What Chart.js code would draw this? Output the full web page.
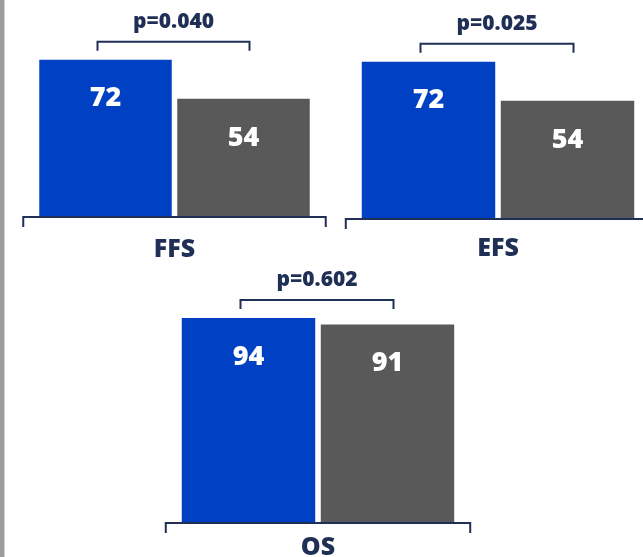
<!DOCTYPE html>
<html>
<head>
<meta charset="utf-8">
<script src="https://cdn.jsdelivr.net/npm/chart.js@4/dist/chart.umd.min.js"></script>
<style>
  html, body { margin: 0; padding: 0; background: #ffffff; }
  #wrap { position: relative; width: 643px; height: 557px; overflow: hidden; background: #ffffff; }
  #edge { position: absolute; left: 0; top: 0; width: 4px; height: 557px; background: #9d9d9d; border-right: 1px solid #d4d4d4; }
  canvas.panel { position: absolute; left: 0; top: -30px; }
</style>
</head>
<body>
<div id="wrap">
  <div id="edge"></div>
  <canvas class="panel" id="c0" width="643" height="600"></canvas>
  <canvas class="panel" id="c1" width="643" height="600"></canvas>
  <canvas class="panel" id="c2" width="643" height="600"></canvas>
</div>
<script>
// Outcome rates (%) per endpoint for the two arms
const categories = ['FFS', 'EFS', 'OS'];
const armA = [72, 72, 94];
const armB = [54, 54, 91];
const pValues = ['p=0.040', 'p=0.025', 'p=0.602'];

const BLUE = '#0041c4';
const GREY = '#595959';
const NAVY = '#1f2f55';
const FONT = '"Open Sans", "DejaVu Sans", sans-serif';
const WEIGHT = '800';

// Placement of each panel's plot area on the page (px)
const panelLayout = [
  { left: 36.5, right: 312.5, bottom: 216, labelDy: 34 },
  { left: 359,  right: 637,   bottom: 218, labelDy: 31 },
  { left: 179,  right: 457,   bottom: 522, labelDy: 26 }
];
const PLOT_H = 217;      // height of 0..100 on the value axis
const CANVAS_TOP = -30;  // canvases are shifted up so the plot can start at the page edge
const CANVAS_W = 643, CANVAS_H = 600;

const annotate = {
  id: 'annotate',
  afterDatasetsDraw(chart, args, opts) {
    const ctx = chart.ctx;
    const meta = chart.getDatasetMeta(0);
    const bars = meta.data;
    const vals = chart.data.datasets[0].data;
    const base = chart.scales.y.getPixelForValue(0);

    ctx.save();
    // value labels inside the bars
    ctx.fillStyle = '#ffffff';
    ctx.font = WEIGHT + ' 27px ' + FONT;
    ctx.textAlign = 'center';
    ctx.textBaseline = 'middle';
    bars.forEach((b, i) => {
      ctx.fillText(String(vals[i]), b.x, b.y + 39);
    });

    // bracket-style category axis under the pair of bars
    const l0 = bars[0].x - bars[0].width / 2;
    const r1 = bars[1].x + bars[1].width / 2;
    const axL = l0 - 16, axR = r1 + 16, axY = base + 1;
    ctx.strokeStyle = NAVY;
    ctx.lineWidth = 2;
    ctx.lineCap = 'butt';
    ctx.beginPath();
    ctx.moveTo(axL, axY + 10);
    ctx.lineTo(axL, axY);
    ctx.lineTo(axR, axY);
    ctx.lineTo(axR, axY + 10);
    ctx.stroke();

    // category name
    ctx.fillStyle = NAVY;
    ctx.font = WEIGHT + ' 25px ' + FONT;
    ctx.fillText(opts.label, (axL + axR) / 2, base + opts.labelDy);

    // significance bracket above the bars
    const topY = Math.min(bars[0].y, bars[1].y);
    const bY = topY - 18;
    const bL = bars[0].x - 8, bR = bars[1].x + 6;
    ctx.beginPath();
    ctx.moveTo(bL, bY + 9);
    ctx.lineTo(bL, bY);
    ctx.lineTo(bR, bY);
    ctx.lineTo(bR, bY + 9);
    ctx.stroke();

    ctx.font = WEIGHT + ' 21px ' + FONT;
    ctx.fillText(opts.pText, (bL + bR) / 2, bY - 20);
    ctx.restore();
  }
};

categories.forEach((cat, i) => {
  const g = panelLayout[i];
  const top = g.bottom - PLOT_H;
  new Chart(document.getElementById('c' + i), {
    type: 'bar',
    data: {
      labels: ['A', 'B'],
      datasets: [{
        data: [armA[i], armB[i]],
        backgroundColor: [BLUE, GREY],
        borderWidth: 0,
        categoryPercentage: 1.0,
        barPercentage: 0.96
      }]
    },
    options: {
      responsive: false,
      animation: false,
      devicePixelRatio: 1,
      layout: {
        padding: {
          left: g.left,
          right: CANVAS_W - g.right,
          top: top - CANVAS_TOP,
          bottom: CANVAS_H - (g.bottom - CANVAS_TOP)
        }
      },
      scales: {
        x: { display: false },
        y: { display: false, min: 0, max: 100 }
      },
      plugins: {
        legend: { display: false },
        tooltip: { enabled: false },
        annotate: { label: cat, pText: pValues[i], labelDy: g.labelDy }
      }
    },
    plugins: [annotate]
  });
});
</script>
</body>
</html>
